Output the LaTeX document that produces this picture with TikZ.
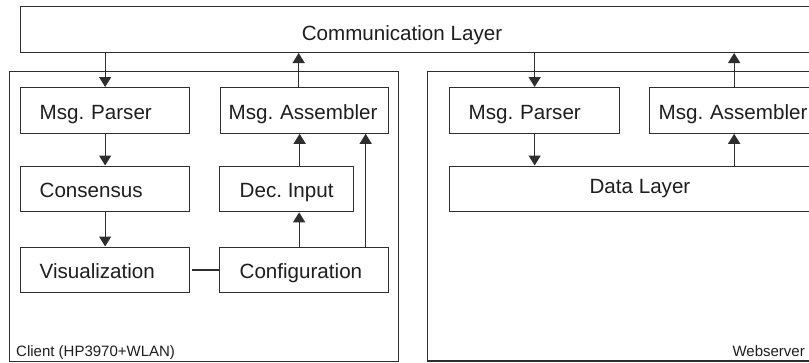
\documentclass[tikz,border=0pt]{standalone}
\usepackage{fontspec}
\setmainfont{Liberation Sans}
\usetikzlibrary{arrows.meta}
\definecolor{linec}{HTML}{2E2E2E}
\definecolor{textc}{HTML}{1E1E1E}
\frenchspacing
\hyphenpenalty=10000
\tikzset{
  box/.style={draw=linec, line width=1.3pt, anchor=north west, inner sep=0pt,
    minimum height=45.5pt, text height=17.6pt, text depth=0pt, text=textc,
    font=\fontsize{20.6}{24}\selectfont},
  lbox/.style={box, align=left, inner xsep=#1},
  frame/.style={draw=linec, line width=1.3pt, anchor=north west, inner sep=0pt},
  small/.style={text=textc, inner sep=0pt, font=\fontsize{15}{18}\selectfont},
  big/.style={text=textc, inner sep=0pt, font=\fontsize{20.6}{24}\selectfont},
  arr/.style={draw=linec, line width=1.3pt, -{Triangle[width=12pt,length=10pt]}},
  conn/.style={draw=linec, line width=1.3pt}
}
\begin{document}
\begin{tikzpicture}[x=1pt,y=-1pt]
\path[use as bounding box, clip] (0,0) rectangle (809,362);
\fill[white] (0,0) rectangle (809,362);
% communication layer
\node[frame, minimum width=800pt, minimum height=46pt] (comm) at (20,5.7) {};
\node[big, anchor=base] (commlabel) at (402,40.5) {Communication Layer};
% containers
\node[frame, minimum width=389pt, minimum height=290pt] (client) at (9,70.7) {};
\node[small, anchor=base west] (clientlabel) at (16,356.7) {Client (HP3970+WLAN)};
\node[frame, minimum width=389pt, minimum height=289.5pt] (web) at (427,70.7) {};
\node[small, anchor=base east] (weblabel) at (805,356.7) {Webserver};
% client boxes
\node[lbox=19pt, text width=131pt] (parserL) at (20,87) {Msg. Parser};
\node[lbox=8pt, text width=152pt] (assemL) at (220,87) {Msg. Assembler};
\node[lbox=19pt, text width=131pt] (consL) at (20,165.5) {Consensus};
\node[box, minimum width=134pt] (decL) at (219,165.5) {Dec. Input};
\node[lbox=19pt, text width=131pt] (visL) at (20,246.5) {Visualization};
\node[lbox=20pt, text width=129pt] (confL) at (219,246.5) {Configuration};
% webserver boxes
\node[lbox=19pt, text width=132pt] (parserR) at (449,87) {Msg. Parser};
\node[lbox=9pt, text width=151pt] (assemR) at (649,87) {Msg. Assembler};
\node[box, minimum width=369pt] (data) at (449,165.5) {};
\node[big, anchor=base] (datalabel) at (640,193) {Data Layer};
% connectors client
\draw[arr] (comm.south -| parserL) -- (parserL.north);
\draw[arr] ([xshift=-6pt]assemL.north) -- ([xshift=-6pt]assemL.north |- comm.south);
\draw[arr] (parserL.south) -- (consL.north);
\draw[arr] (consL.south) -- (visL.north);
\draw[arr] ([xshift=13pt]decL.north) -- ([xshift=13pt]decL.north |- assemL.south);
\draw[arr] ([xshift=-5pt]confL.north) -- ([xshift=-5pt]confL.north |- decL.south);
\draw[arr] ([xshift=61.5pt]confL.north) -- ([xshift=61.5pt]confL.north |- assemL.south);
\draw[conn] ([xshift=2pt]visL.east) -- (confL.west);
% connectors webserver
\draw[arr] (comm.south -| parserR) -- (parserR.north);
\draw[arr] (parserR.south) -- (parserR.south |- data.north);
\draw[arr] (assemR.north) -- (assemR.north |- comm.south);
\draw[arr] (data.north -| assemR) -- (assemR.south);
\end{tikzpicture}
\end{document}
